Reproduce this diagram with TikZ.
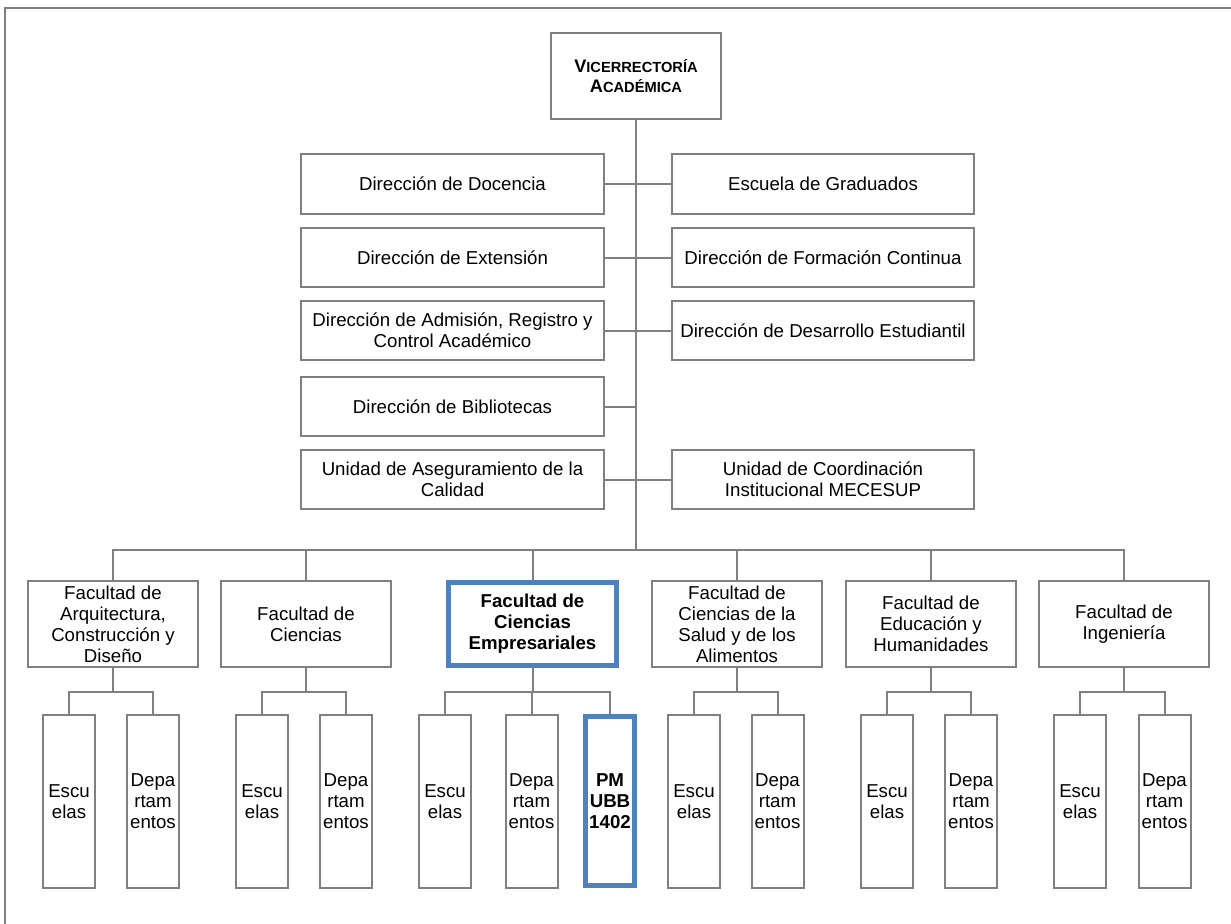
\documentclass[tikz,border=0pt]{standalone}
\usepackage{fontspec}
\setmainfont{Liberation Sans}
\definecolor{lg}{RGB}{128,128,128}
\definecolor{bl}{RGB}{79,129,189}
\begin{document}
\begin{tikzpicture}[x=0.75pt,y=-0.75pt,
  box/.style={draw=lg,line width=1.5pt,fill=white,align=center,inner sep=0pt,font=\fontsize{14}{15.75}\selectfont},
  hl/.style={draw=bl,line width=3.75pt,font=\bfseries\fontsize{14}{15.75}\selectfont},
  bw/.style={minimum width=#1*0.75pt},
  bh/.style={minimum height=#1*0.75pt},
  conn/.style={draw=lg,line width=1.5pt},
  frame/.style={draw=lg,line width=1.5pt}]
\useasboundingbox (0,0) rectangle (1231,924);
\draw[frame] (5,924) -- (5,8) -- (1231,8);
\coordinate (bus) at (637,550);
\coordinate (sb) at (0,692);

% top
\node[box,bw=170,bh=86,font=\bfseries\fontsize{14}{15}\selectfont] (vr) at (636,76)
  {{\fontsize{13.6}{15}\selectfont V}{\fontsize{11}{15}\selectfont ICERRECTORÍA}\\
   {\fontsize{13.6}{15}\selectfont A}{\fontsize{11}{15}\selectfont CADÉMICA}};

% rows
\node[box,bw=303,bh=60] (l1) at (452.5,184) {Dirección de Docencia};
\node[box,bw=302,bh=60] (r1) at (823,184) {Escuela de Graduados};
\node[box,bw=303,bh=59] (l2) at (452.5,257.5) {Dirección de Extensión};
\node[box,bw=302,bh=59] (r2) at (823,257.5) {Dirección de Formación Continua};
\node[box,bw=303,bh=59] (l3) at (452.5,330.5) {Dirección de Admisión, Registro y\\Control Académico};
\node[box,bw=302,bh=59] (r3) at (823,330.5) {Dirección de Desarrollo Estudiantil};
\node[box,bw=303,bh=59] (l4) at (452.5,406.5) {Dirección de Bibliotecas};
\node[box,bw=303,bh=59] (l5) at (452.5,479.5) {Unidad de Aseguramiento de la\\Calidad};
\node[box,bw=302,bh=59] (r5) at (823,479.5) {Unidad de Coordinación\\Institucional MECESUP};

% faculties
\node[box,bw=170,bh=86] (f1) at (113,624) {Facultad de\\Arquitectura,\\Construcción y\\Diseño};
\node[box,bw=170,bh=86] (f2) at (306,624) {Facultad de\\Ciencias};
\node[box,hl,bw=168,bh=83] (f3) at (532.5,624) {Facultad de\\Ciencias\\Empresariales};
\node[box,bw=170,bh=86] (f4) at (737,624) {Facultad de\\Ciencias de la\\Salud y de los\\Alimentos};
\node[box,bw=170,bh=86] (f5) at (931,624) {Facultad de\\Educación y\\Humanidades};
\node[box,bw=170,bh=86] (f6) at (1124,624) {Facultad de\\Ingeniería};

% sub units
\node[box,bw=52,bh=173] (e1) at (69,801.5) {Escu\\elas};
\node[box,bw=52,bh=173] (d1) at (153,801.5) {Depa\\rtam\\entos};
\node[box,bw=52,bh=173] (e2) at (262,801.5) {Escu\\elas};
\node[box,bw=52,bh=173] (d2) at (346,801.5) {Depa\\rtam\\entos};
\node[box,bw=52,bh=173] (e3) at (445,801.5) {Escu\\elas};
\node[box,bw=52,bh=173] (d3) at (531.5,801.5) {Depa\\rtam\\entos};
\node[box,hl,bw=49,bh=169] (pm) at (610,801) {PM\\UBB\\1402};
\node[box,bw=52,bh=173] (e4) at (694,801.5) {Escu\\elas};
\node[box,bw=52,bh=173] (d4) at (777.5,801.5) {Depa\\rtam\\entos};
\node[box,bw=52,bh=173] (e5) at (887,801.5) {Escu\\elas};
\node[box,bw=52,bh=173] (d5) at (971,801.5) {Depa\\rtam\\entos};
\node[box,bw=52,bh=173] (e6) at (1080,801.5) {Escu\\elas};
\node[box,bw=52,bh=173] (d6) at (1164.5,801.5) {Depa\\rtam\\entos};

% connectors
\draw[conn] (vr.south) -- (vr.south |- bus);
\draw[conn] (l1.east) -- (r1.west);
\draw[conn] (l2.east) -- (r2.west);
\draw[conn] (l3.east) -- (r3.west);
\draw[conn] (l4.east) -- (l4.east -| vr.south);
\draw[conn] (l5.east) -- (r5.west);
\draw[conn] (f1.north) -- (f1.north |- bus) -- (f6.north |- bus) -- (f6.north);
\foreach \f in {f2,f3,f4,f5} \draw[conn] (\f.north) -- (\f.north |- bus);
\foreach \i in {1,2,4,5,6} {
  \draw[conn] (e\i.north) -- (e\i.north |- sb) -- (d\i.north |- sb) -- (d\i.north);
  \draw[conn] (f\i.south) -- (f\i.south |- sb);
}
\draw[conn] (e3.north) -- (e3.north |- sb) -- (pm.north |- sb) -- (pm.north);
\draw[conn] (d3.north) -- (d3.north |- sb);
\draw[conn] (f3.south) -- (f3.south |- sb);
\end{tikzpicture}
\end{document}
